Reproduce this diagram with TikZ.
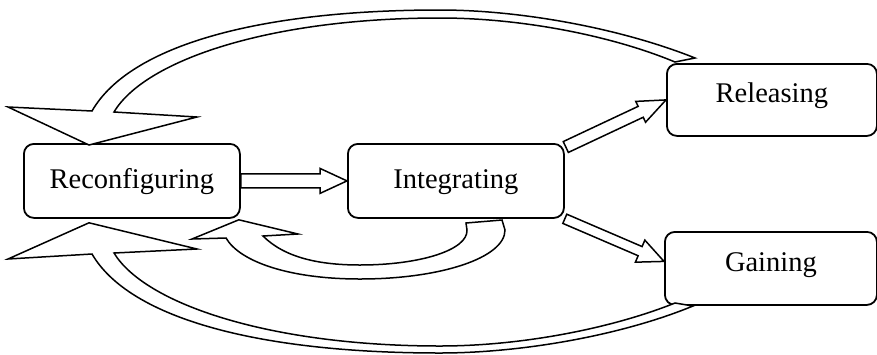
\documentclass[tikz,border=0pt]{standalone}
\usepackage{fontspec}
\setmainfont{Liberation Serif}
\usetikzlibrary{calc}
\tikzset{
  box/.style={draw, line width=1.8pt, rounded corners=10pt, inner sep=0pt,
    font=\fontsize{28.5}{34}\selectfont},
  arrowline/.style={draw, line width=1.5pt, line join=miter, fill=white},
}
\newcommand\blockarrow[5]{%
  \coordinate (ba-h) at ($(#2)!#5!(#1)$);
  \draw[arrowline] ($(#1)!#3!90:(#2)$) -- ($(ba-h)!#3!-90:(#1)$) -- ($(ba-h)!#4!-90:(#1)$)
    -- (#2) -- ($(ba-h)!#4!90:(#1)$) -- ($(ba-h)!#3!90:(#1)$) -- ($(#1)!#3!-90:(#2)$) -- cycle;}
\begin{document}
\begin{tikzpicture}[x=1pt,y=-1pt]
\useasboundingbox (0,0) rectangle (877,354);
% boxes
\node[box, anchor=north west, minimum width=216pt, text height=45pt, text depth=29pt] (rec) at (23,143) {Reconfiguring};
\node[box, anchor=north west, minimum width=216pt, text height=45pt, text depth=29pt] (int) at (347,143) {Integrating};
\node[box, anchor=north west, minimum width=210pt, text height=39pt, text depth=33pt] (rel) at (666,63) {Releasing};
\node[box, anchor=north west, minimum width=212pt, text height=40pt, text depth=33pt] (gain) at (664,231) {Gaining};
% straight block arrows
\coordinate (a1s) at (rec.east);
\coordinate (a1t) at (int.west);
\blockarrow{a1s}{a1t}{7pt}{12.5pt}{27pt}
\coordinate (a2s) at ($(int.north east)+(1,4)$);
\coordinate (a2t) at (rel.west);
\blockarrow{a2s}{a2t}{6pt}{11.5pt}{28pt}
\coordinate (a3s) at ($(int.south east)+(0,0)$);
\coordinate (a3t) at ($(gain.west)+(0,-7)$);
\blockarrow{a3s}{a3t}{5pt}{12pt}{26pt}
% top curved arrow: Releasing -> Reconfiguring
\coordinate (t1) at ($(rec.north west)+(66,2)$);
\draw[arrowline] (695,58) .. controls (620,28) and (520,10) .. (440,10)
  .. controls (260,10) and (130,45) .. (92,111)
  -- (8,107) -- (t1) -- (197,117) -- (114,112)
  .. controls (145,60) and (270,18) .. (440,18)
  .. controls (520,18) and (610,35) .. (675,62) -- cycle;
% bottom curved arrow: Gaining -> Reconfiguring
\coordinate (t2) at ($(rec.south west)+(66,4)$);
\draw[arrowline] (693,306) .. controls (620,336) and (520,353) .. (440,353)
  .. controls (260,353) and (130,319) .. (92,254)
  -- (8,259) -- (t2) -- (197,249) -- (114,253)
  .. controls (145,304) and (270,346) .. (440,346)
  .. controls (520,346) and (610,329) .. (675,303) -- cycle;
% small curved arrow: Integrating -> Reconfiguring
\coordinate (t3) at ($(rec.south east)+(-2,1)$);
\draw[arrowline] (502,220) -- (505,230) .. controls (505,258) and (440,279) .. (360,279)
  .. controls (290,279) and (240,262) .. (226,238)
  -- (192,239) -- (t3) -- (298,234) -- (263,236)
  .. controls (285,258) and (320,265) .. (360,265)
  .. controls (420,265) and (468,250) .. (467,230) -- (466,223) -- cycle;
\end{tikzpicture}
\end{document}
